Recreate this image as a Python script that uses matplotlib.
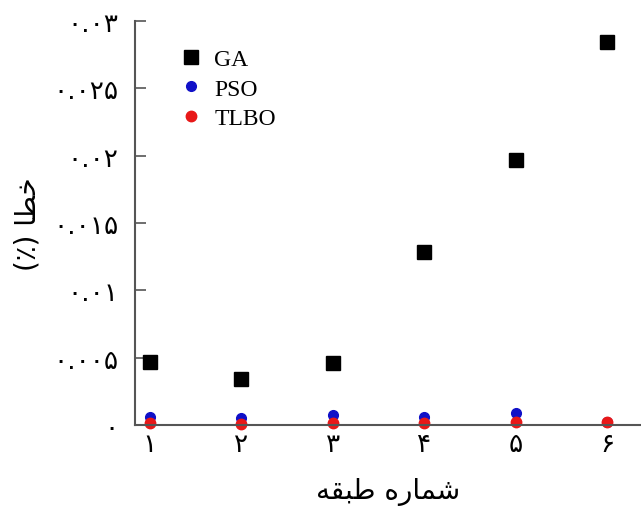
import numpy as np
import matplotlib
matplotlib.use("Agg")
import matplotlib.pyplot as plt

# داده ها
tabaghe = [1, 2, 3, 4, 5, 6]
xtick_labels = ["۱", "۲", "۳", "۴", "۵", "۶"]
ytick_vals = [0, 0.005, 0.01, 0.015, 0.02, 0.025, 0.03]
ytick_labels = ["۰", "۰.۰۰۵", "۰.۰۱", "۰.۰۱۵", "۰.۰۲", "۰.۰۲۵", "۰.۰۳"]

ga = [0.00468, 0.00342, 0.0046, 0.01285, 0.01968, 0.02844]
pso = [0.0006, 0.0005, 0.00075, 0.0006, 0.0009, 0.0002]
tlbo = [0.00012, 0.0001, 0.00015, 0.00015, 0.0002, 0.0002]

# matplotlib حروف فارسی را شکل نمیده، پس فرم های نمایشی به ترتیب چپ به راست
xlabel_txt = "\uFEEA\uFED8\uFE92\uFEC3 \uFEE9\uFEAD\uFE8E\uFEE4\uFEB7"   # شماره طبقه
ylabel_txt = "(\u066A) \uFE8E\uFEC4\uFEA7"                              # خطا (٪)

fig = plt.figure(figsize=(6.41, 5.10), dpi=100)
ax = fig.add_axes([0.2106, 0.1647, 0.7894, 0.7922])

ax.plot(tabaghe, ga, 's', color='black', markersize=10, label='GA', clip_on=False)
ax.plot(tabaghe, pso, 'o', color='#1010c8', markersize=7, label='PSO', clip_on=False)
ax.plot(tabaghe, tlbo, 'o', color='#e81818', markersize=7.5, label='TLBO', clip_on=False)

ax.set_xlim(0.84, 6.37)
ax.set_ylim(0, 0.03)
ax.set_xticks(tabaghe)
ax.set_xticklabels(xtick_labels, family=['DejaVu Sans'], fontsize=19)
ax.set_yticks(ytick_vals)
ax.set_yticklabels(ytick_labels, family=['DejaVu Sans'], fontsize=19)
ax.tick_params(axis='y', direction='in', length=8, width=1.2, color='#555555', pad=12)
ax.tick_params(axis='x', direction='in', length=5, width=1.2, color='#555555', pad=4)

for s in ['top', 'right']:
    ax.spines[s].set_visible(False)
for s in ['left', 'bottom']:
    ax.spines[s].set_color('#555555')
    ax.spines[s].set_linewidth(1.5)

ax.set_xlabel(xlabel_txt, family=['DejaVu Sans'], fontsize=20, labelpad=15)
ax.set_ylabel(ylabel_txt, family=['DejaVu Sans'], fontsize=20, labelpad=8)

leg = ax.legend(loc='upper left', bbox_to_anchor=(0.045, 0.985), frameon=False,
                prop={'family': 'Liberation Serif', 'size': 17},
                handletextpad=0.5, labelspacing=0.35, handlelength=1.0)

fig.savefig("out.png", dpi=100)
